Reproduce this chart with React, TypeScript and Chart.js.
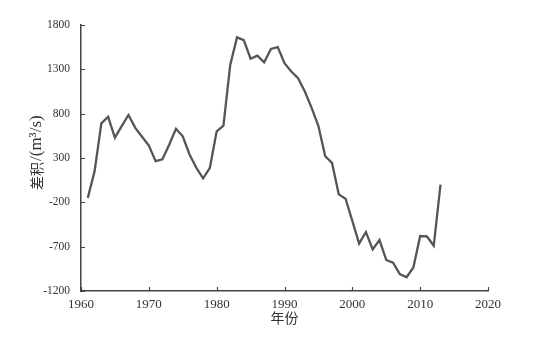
import { useEffect, useRef } from "react";
import { Chart, registerables } from "chart.js";

Chart.register(...registerables);

const years = [
  1961, 1962, 1963, 1964, 1965, 1966, 1967, 1968, 1969, 1970,
  1971, 1972, 1973, 1974, 1975, 1976, 1977, 1978, 1979, 1980,
  1981, 1982, 1983, 1984, 1985, 1986, 1987, 1988, 1989, 1990,
  1991, 1992, 1993, 1994, 1995, 1996, 1997, 1998, 1999, 2000,
  2001, 2002, 2003, 2004, 2005, 2006, 2007, 2008, 2009, 2010,
  2011, 2012, 2013,
];
const values = [
  -150, 150, 690, 765, 530, 660, 785, 640, 540, 440,
  265, 285, 450, 630, 545, 340, 190, 70, 190, 600,
  665, 1350, 1660, 1630, 1420, 1455, 1380, 1530, 1550, 1370,
  1275, 1200, 1050, 865, 660, 320, 245, -110, -160, -410,
  -665, -535, -730, -625, -850, -880, -1010, -1045, -935, -580,
  -585, -690, 0,
];
const xTicks = [1960, 1970, 1980, 1990, 2000, 2010, 2020];
const yTicks = [-1200, -700, -200, 300, 800, 1300, 1800];
const xTitle = "年份";
const yTitleCjk = "差积";
const yTitleUnit = "/(m³/s)";

const AXIS = "#444";
const TEXT = "#333";

const decor = {
  id: "decor",
  afterDraw(chart: any) {
    const { ctx, chartArea } = chart;
    const x = chart.scales.x;
    const y = chart.scales.y;
    ctx.save();
    ctx.strokeStyle = AXIS;
    ctx.lineWidth = 1.2;
    ctx.beginPath();
    for (const v of xTicks) {
      const px = Math.round(x.getPixelForValue(v)) + 0.5;
      ctx.moveTo(px, chartArea.bottom);
      ctx.lineTo(px, chartArea.bottom - 4);
    }
    for (const v of yTicks) {
      const py = Math.round(y.getPixelForValue(v)) + 0.5;
      ctx.moveTo(chartArea.left, py);
      ctx.lineTo(chartArea.left + 4, py);
    }
    ctx.stroke();

    ctx.fillStyle = TEXT;
    ctx.font = '14px "Noto Sans CJK SC", serif';
    ctx.textAlign = "center";
    ctx.textBaseline = "middle";
    ctx.fillText(xTitle, (chartArea.left + chartArea.right) / 2, 318);

    // rotated y title, starting from bottom (y=190) going up
    ctx.translate(37, 190);
    ctx.rotate(-Math.PI / 2);
    ctx.textAlign = "left";
    ctx.font = '14px "Noto Sans CJK SC", serif';
    ctx.fillText(yTitleCjk, 0, 0);
    const w = ctx.measureText(yTitleCjk).width;
    ctx.font = '17px "Liberation Serif", serif';
    ctx.fillText(yTitleUnit, w + 1, 0);
    ctx.restore();
  },
};

export default function App() {
  const ref = useRef<HTMLCanvasElement | null>(null);

  useEffect(() => {
    document.body.style.margin = "0";
    document.body.style.background = "#fff";
    const canvas = ref.current;
    if (!canvas) return;
    const chart = new Chart(canvas, {
      type: "line",
      data: {
        datasets: [
          {
            data: years.map((yr, i) => ({ x: yr, y: values[i] })),
            borderColor: "#555",
            borderWidth: 2.3,
            pointRadius: 0,
            tension: 0,
            fill: false,
          },
        ],
      },
      options: {
        animation: false,
        responsive: true,
        maintainAspectRatio: false,
        layout: { padding: { top: 25, right: 54, left: 0, bottom: 0 } },
        plugins: {
          legend: { display: false },
          tooltip: { enabled: false },
        },
        scales: {
          x: {
            type: "linear",
            min: 1960,
            max: 2020,
            afterBuildTicks: (s: any) => {
              s.ticks = xTicks.map((v) => ({ value: v }));
            },
            afterFit: (s: any) => {
              s.height = 47;
            },
            grid: { display: true, drawOnChartArea: false, drawTicks: false },
            border: { display: true, color: AXIS, width: 1.5 },
            ticks: {
              color: TEXT,
              padding: 6,
              maxRotation: 0,
              autoSkip: false,
              font: { family: '"Liberation Serif", serif', size: 13 },
              callback: (v: any) => String(v),
            },
          },
          y: {
            type: "linear",
            min: -1200,
            max: 1800,
            afterBuildTicks: (s: any) => {
              s.ticks = yTicks.map((v) => ({ value: v }));
            },
            afterFit: (s: any) => {
              s.width = 81;
            },
            grid: { display: true, drawOnChartArea: false, drawTicks: false },
            border: { display: true, color: AXIS, width: 1.5 },
            ticks: {
              color: TEXT,
              padding: 11,
              autoSkip: false,
              font: { family: '"Liberation Serif", serif', size: 11.5 },
              callback: (v: any) => String(v),
            },
          },
        },
      },
      plugins: [decor],
    });
    return () => chart.destroy();
  }, []);

  return (
    <div style={{ width: 542, height: 338, position: "relative", background: "#fff" }}>
      <canvas ref={ref} />
    </div>
  );
}
